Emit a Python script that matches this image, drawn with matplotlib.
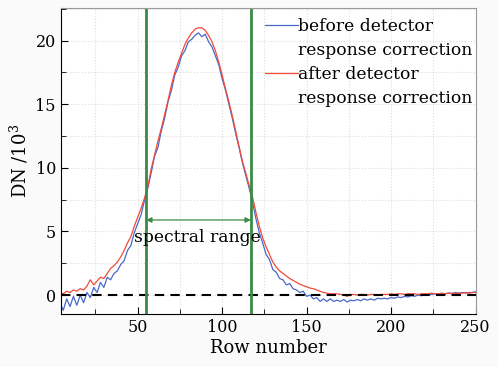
import numpy as np
import matplotlib
matplotlib.use("Agg")
import matplotlib.pyplot as plt
from matplotlib.lines import Line2D
from matplotlib.ticker import MultipleLocator

plt.rcParams['font.family'] = ['DejaVu Serif']
plt.rcParams['mathtext.fontset'] = 'dejavuserif'

# row numbers (every 2nd row)
rows = np.arange(4, 251, 2)

# DN/10^3 after detector response correction
after = [0.2, 0.1, 0.3, 0.2, 0.4, 0.3, 0.5, 0.4, 0.7, 1.2,
         0.8, 1.1, 1.4, 1.3, 1.7, 2.1, 2.3, 2.6, 3.0, 3.5,
         4.1, 4.6, 5.4, 6.1, 6.8, 7.6, 8.5, 9.9, 11.0, 12.1,
         13.1, 14.2, 15.3, 16.5, 17.5, 18.3, 19.0, 19.7, 20.2, 20.6,
         20.9, 21.0, 21.0, 20.8, 20.4, 19.9, 19.2, 18.3, 17.3, 16.2,
         15.2, 14.1, 12.9, 11.7, 10.5, 9.6, 8.6, 7.7, 6.5, 5.4,
         4.5, 3.8, 3.2, 2.6, 2.2, 1.9, 1.7, 1.5, 1.3, 1.15,
         1.0, 0.85, 0.75, 0.65, 0.55, 0.5, 0.4, 0.3, 0.2, 0.15,
         0.1, 0.1, 0.1, 0.05, 0.0, -0.1, 0.05, 0.05, 0.0, 0.05,
         0.05, 0.0, 0.05, 0.05, 0.0, 0.05, 0.05, 0.05, 0.1, 0.05,
         0.1, 0.1, 0.05, 0.1, 0.1, 0.1, 0.05, 0.1, 0.1, 0.1,
         0.15, 0.1, 0.1, 0.15, 0.1, 0.15, 0.15, 0.1, 0.15, 0.15,
         0.2, 0.15, 0.2, 0.2]

# DN/10^3 before detector response correction
before = [-0.6, -1.2, -0.3, -0.9, -0.1, -0.8, 0.0, -0.6, 0.2, -0.2,
          0.6, 0.2, 1.0, 0.6, 1.4, 1.2, 1.7, 1.9, 2.4, 2.7,
          3.5, 3.9, 4.9, 5.6, 6.3, 7.4, 8.4, 9.6, 10.9, 11.6,
          12.9, 13.9, 15.2, 16.1, 17.3, 17.9, 18.8, 19.2, 19.9, 20.1,
          20.4, 20.6, 20.3, 20.5, 19.9, 19.5, 18.8, 18.1, 17.0, 16.1,
          15.0, 13.9, 12.7, 11.6, 10.4, 9.4, 8.4, 7.3, 6.0, 4.9,
          4.1, 3.2, 2.8, 2.0, 1.8, 1.3, 1.2, 0.8, 0.9, 0.5,
          0.4, 0.2, 0.3, -0.1, 0.0, -0.3, -0.2, -0.5, -0.3, -0.5,
          -0.3, -0.5, -0.4, -0.5, -0.35, -0.55, -0.4, -0.45, -0.35, -0.45,
          -0.3, -0.4, -0.3, -0.4, -0.25, -0.3, -0.25, -0.3, -0.2, -0.25,
          -0.15, -0.2, -0.1, -0.15, -0.05, -0.1, 0.0, -0.05, 0.05, 0.0,
          0.05, 0.1, 0.05, 0.1, 0.1, 0.15, 0.1, 0.2, 0.15, 0.2,
          0.15, 0.2, 0.2, 0.25]

range_lo = 55
range_hi = 117

fig = plt.figure(figsize=(4.98, 3.67), dpi=100, facecolor='#fafafa')
ax = fig.add_axes([0.122, 0.144, 0.833, 0.834])

ax.plot(rows, before, color='#4a68c8', lw=0.9)
ax.plot(rows, after, color='#f24a3a', lw=0.9)
ax.axhline(0, color='black', ls=(0, (4.5, 3)), lw=1.5)
ax.axvline(range_lo, color='#3a8a48', lw=2)
ax.axvline(range_hi, color='#3a8a48', lw=2)
ax.annotate('', xy=(range_lo, 5.9), xytext=(range_hi, 5.9),
            arrowprops=dict(arrowstyle='<|-|>', color='#3a8a48', lw=0.9,
                            mutation_scale=8, shrinkA=0, shrinkB=0))
ax.text(47.8, 4.5, 'spectral range', fontsize=12.3, va='center', ha='left')

ax.set_xlim(4.5, 250)
ax.set_ylim(-1.5, 22.55)
ax.xaxis.set_major_locator(MultipleLocator(50))
ax.xaxis.set_minor_locator(MultipleLocator(25))
ax.yaxis.set_major_locator(MultipleLocator(5))
ax.yaxis.set_minor_locator(MultipleLocator(2.5))
ax.tick_params(which='both', direction='in', labelsize=11.5)
ax.tick_params(which='major', length=5)
ax.tick_params(which='minor', length=3.5)
ax.grid(which='both', color='#dddddd', ls=':', lw=0.8)
ax.set_axisbelow(True)
for s in ['top', 'right']:
    ax.spines[s].set_color('#999999')

ax.set_xlabel('Row number', fontsize=13, labelpad=2)
ax.set_ylabel('DN /10$^3$', fontsize=13, labelpad=4)

blank = Line2D([], [], color='none')
handles = [Line2D([], [], color='#4a68c8', lw=0.9), blank,
           Line2D([], [], color='#f24a3a', lw=0.9), blank]
labels = ['before detector', 'response correction',
          'after detector', 'response correction']
ax.legend(handles, labels, loc='upper right', bbox_to_anchor=(1.0, 0.98),
          frameon=False, fontsize=12.3,
          handlelength=1.9, handletextpad=0.0, labelspacing=0.42,
          borderaxespad=0.0, borderpad=0.2)

fig.savefig('out.png', dpi=100, facecolor=fig.get_facecolor())
